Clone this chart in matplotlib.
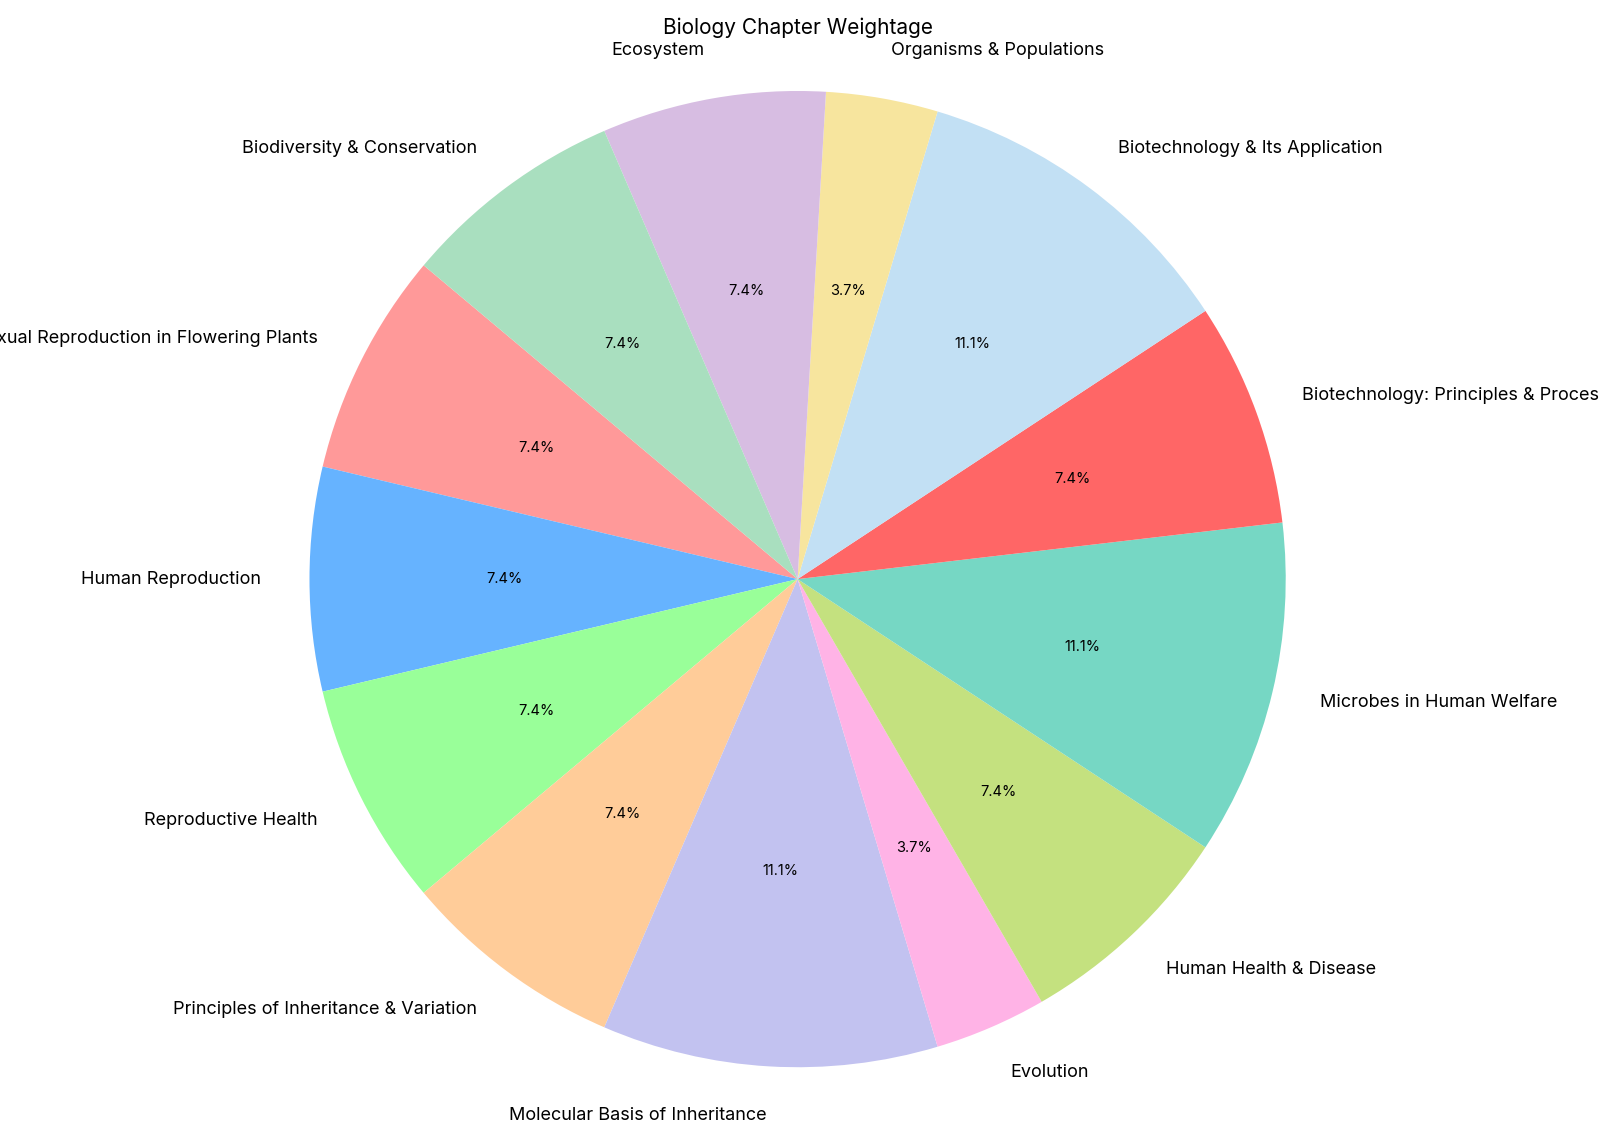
import matplotlib.pyplot as plt

plt.rcParams['font.family'] = ['Inter', 'DejaVu Sans']

chapters = [
    "Sexual Reproduction in Flowering Plants",
    "Human Reproduction",
    "Reproductive Health",
    "Principles of Inheritance & Variation",
    "Molecular Basis of Inheritance",
    "Evolution",
    "Human Health & Disease",
    "Microbes in Human Welfare",
    "Biotechnology: Principles & Processes",
    "Biotechnology & Its Application",
    "Organisms & Populations",
    "Ecosystem",
    "Biodiversity & Conservation",
]
weightage = [2, 2, 2, 2, 3, 1, 2, 3, 2, 3, 1, 2, 2]
colors = ['#ff9999', '#66b3ff', '#99ff99', '#ffcc99', '#c2c2f0', '#ffb3e6',
          '#c4e17f', '#76d7c4', '#ff6666', '#c2e0f4', '#f7e59e', '#d7bde2',
          '#a9dfbf']

fig = plt.figure(figsize=(16, 11.43), dpi=100)
ax = fig.add_axes([0.0, 0.0236, 0.997, 0.9395])

# labels run off the figure edges in the original too
ax.pie(weightage, labels=chapters, colors=colors, autopct='%1.1f%%',
       startangle=140, textprops={'fontsize': 13})
for t in ax.texts:
    if t.get_text().endswith('%'):
        t.set_fontsize(10.5)
ax.axis('equal')
ax.set_title("Biology Chapter Weightage", fontsize=15)

plt.savefig("out.png", dpi=100)
plt.close()
